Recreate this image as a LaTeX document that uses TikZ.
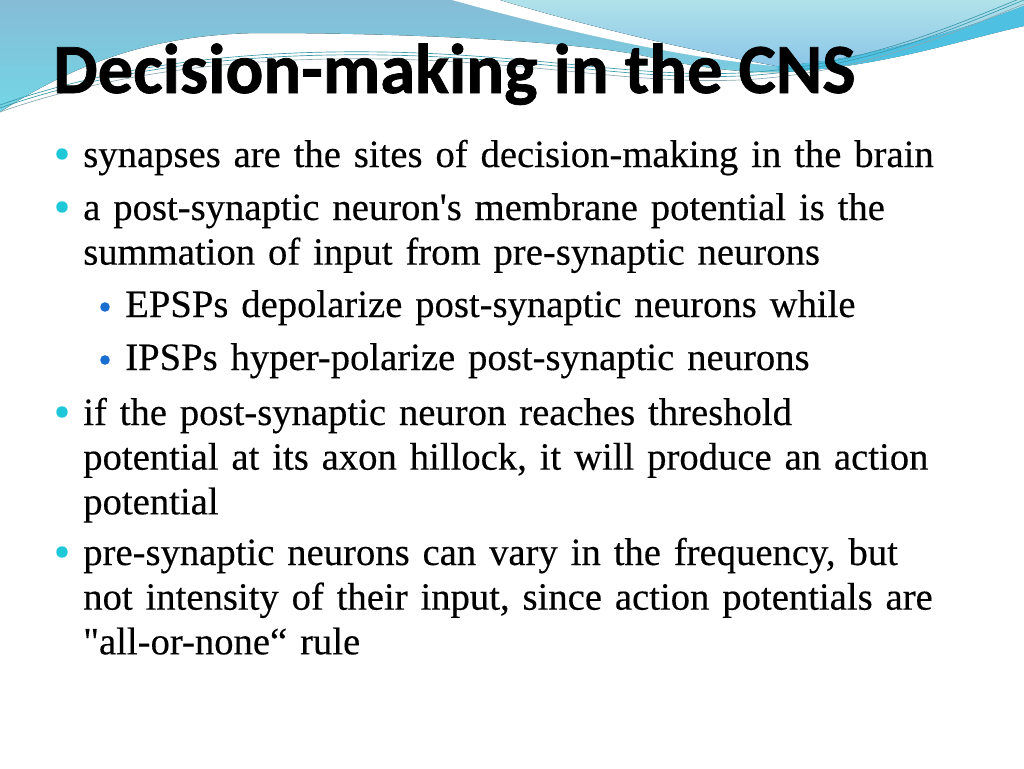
\documentclass[tikz,border=0pt]{standalone}
\usepackage{fontspec}
\newfontfamily\titlefont{Carlito}[BoldFeatures={FakeBold=1.0}]
\newfontfamily\bodyfont{Liberation Serif}[FakeBold=0.3]
\definecolor{bandtop}{HTML}{86BCD6}
\definecolor{bandlow}{HTML}{72D6E6}
\definecolor{lighttop}{HTML}{B0E2EA}
\definecolor{lightlow}{HTML}{8CC6E8}
\definecolor{ribbon}{HTML}{4EC0E2}
\definecolor{strand}{HTML}{3A9AAA}
\definecolor{strandgrey}{HTML}{8AA8B0}
\definecolor{bulletcyan}{HTML}{1EC8D8}
\definecolor{bulletblue}{HTML}{1A6ED0}
\begin{document}
\begin{tikzpicture}[x=0.75pt,y=-0.75pt,
  item/.style={anchor=base west,inner sep=0pt,text width=680pt,align=left,
    font=\bodyfont\fontsize{29}{33.5}\selectfont},
  dot/.style={circle,fill=bulletcyan,inner sep=0pt,minimum size=8.6pt},
  subdot/.style={circle,fill=bulletblue,inner sep=0pt,minimum size=7.2pt}]
  \useasboundingbox (0,0) rectangle (1024,768);
  \fill[white] (0,0) rectangle (1024,768);

  % header swoosh
  \fill[top color=bandtop,bottom color=bandlow]
    (0,0) -- (1024,0) -- (1024,26)
    .. controls (960,40) and (880,68) .. (780,72)
    .. controls (740,73) and (700,68) .. (640,55)
    .. controls (560,40) and (400,33) .. (260,33)
    .. controls (160,34) and (80,60) .. (0,112) -- cycle;
  \fill[white]
    (452,0) .. controls (560,30) and (680,58) .. (776,66)
    .. controls (700,52) and (600,30) .. (500,0) -- cycle;
  \fill[top color=lighttop,bottom color=lightlow]
    (500,0) .. controls (600,30) and (700,52) .. (776,66)
    .. controls (870,60) and (960,30) .. (1024,6) -- (1024,0) -- cycle;
  \fill[ribbon]
    (776,66) .. controls (870,60) and (960,30) .. (1024,6)
    -- (1024,26) .. controls (960,40) and (880,68) .. (780,72) -- cycle;
  \foreach \dy/\col in {0/strand,4/strandgrey,-3/strand}
    \draw[\col,line width=0.5pt,shift={(0,\dy)}]
      (0,108) .. controls (120,66) and (260,50) .. (420,56)
      .. controls (560,62) and (640,80) .. (740,76)
      .. controls (860,70) and (950,30) .. (1024,0);

  \node[anchor=base west,inner sep=0pt,
    font=\titlefont\bfseries\fontsize{52.9}{60}\selectfont] (title) at (53,93)
    {Decision-making in the CNS};

  \node[item] (syn) at (83,167) {synapses are the sites of decision-making in the brain};
  \node[item] (post) at (83,220) {a post-synaptic neuron's membrane potential is the\\
    summation of input from pre-synaptic neurons};
  \node[item] (epsp) at (125,317) {EPSPs depolarize post-synaptic neurons while};
  \node[item] (ipsp) at (125,370) {IPSPs hyper-polarize post-synaptic neurons};
  \node[item] (thr) at (83,425) {if the post-synaptic neuron reaches threshold\\
    potential at its axon hillock, it will produce an action\\
    potential};
  \node[item] (freq) at (83,565) {pre-synaptic neurons can vary in the frequency, but\\
    not intensity of their input, since action potentials are\\
    "all-or-none“ rule};

  \foreach \n/\y in {syn/167,post/220,thr/425,freq/565}
    \node[dot] (b-\n) at (62,\y-13) {};
  \foreach \n/\y in {epsp/317,ipsp/370}
    \node[subdot] (b-\n) at (105,\y-10) {};
\end{tikzpicture}
\end{document}
